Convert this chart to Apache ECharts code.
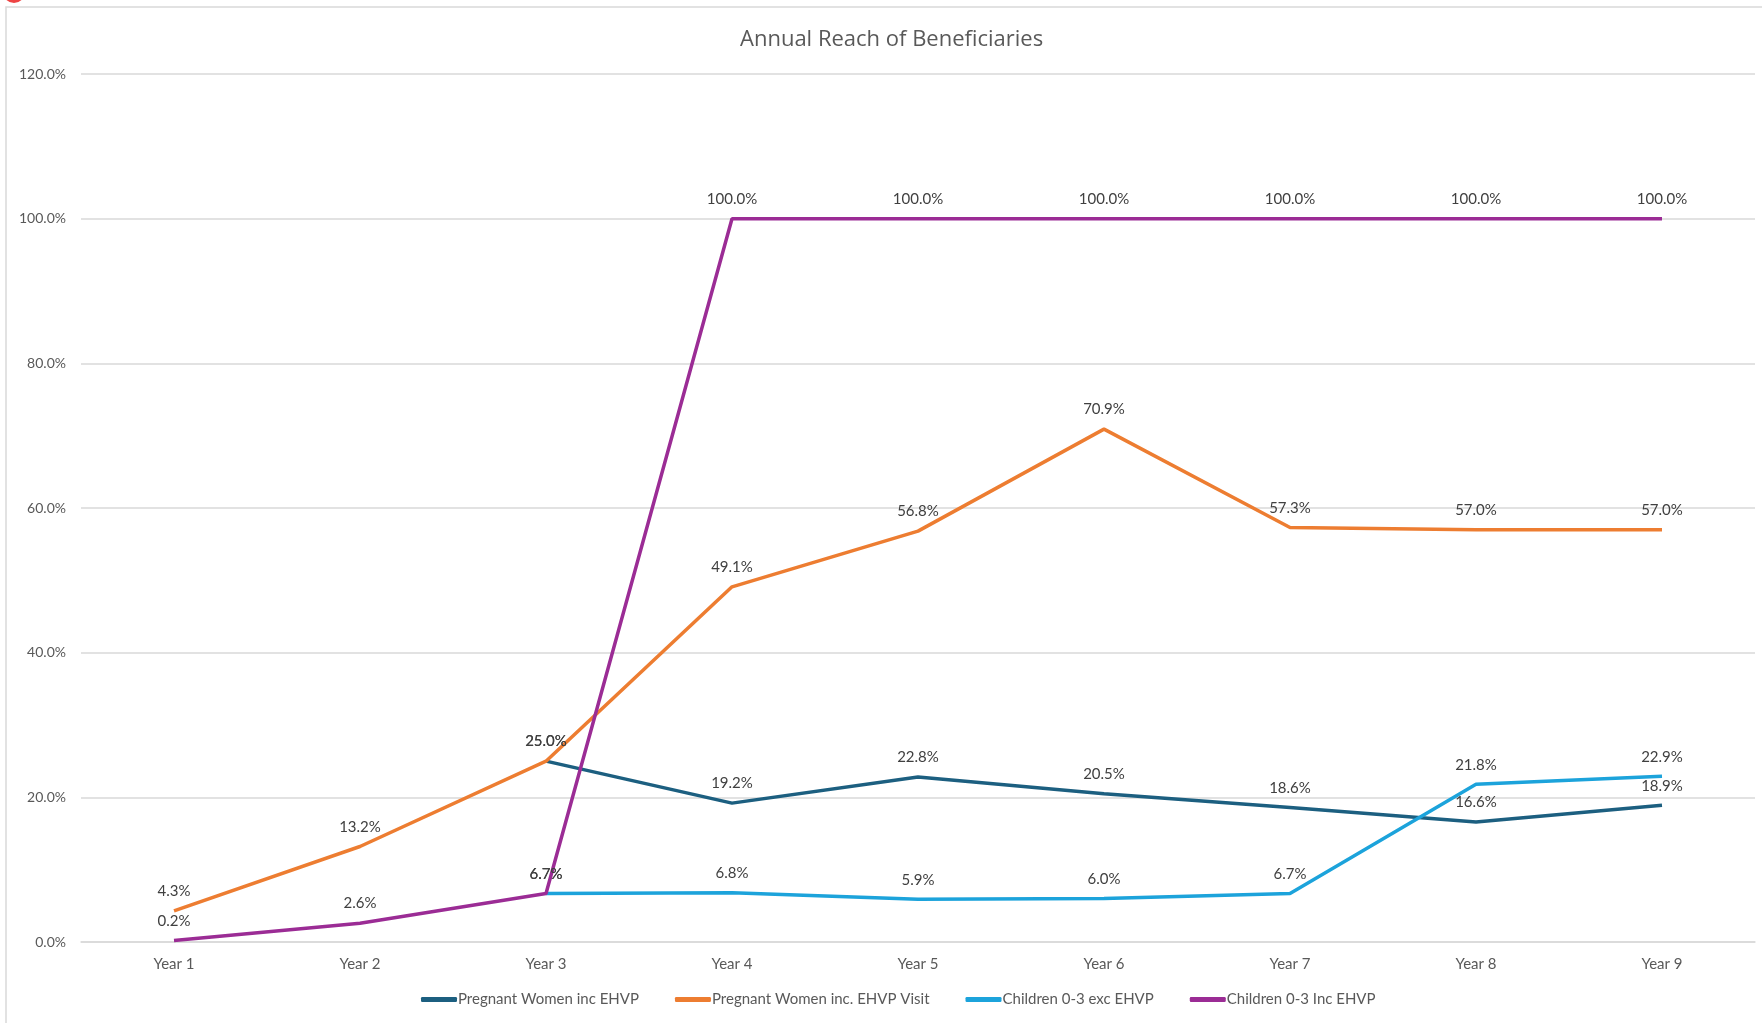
<!DOCTYPE html>
<html>
<head>
<meta charset="utf-8">
<script src="https://cdn.jsdelivr.net/npm/echarts@6/dist/echarts.min.js"></script>
<style>
  html, body { margin: 0; padding: 0; background: #fff; }
  #main { width: 1762px; height: 1023px; }
</style>
</head>
<body>
<div id="main"></div>
<script>
var years = ['Year 1', 'Year 2', 'Year 3', 'Year 4', 'Year 5', 'Year 6', 'Year 7', 'Year 8', 'Year 9'];
var pregnantInc = [null, null, 25.0, 19.2, 22.8, 20.5, 18.6, 16.6, 18.9];
var pregnantVisit = [4.3, 13.2, 25.0, 49.1, 56.8, 70.9, 57.3, 57.0, 57.0];
var childrenExc = [null, null, 6.7, 6.8, 5.9, 6.0, 6.7, 21.8, 22.9];
var childrenInc = [0.2, 2.6, 6.7, 100.0, 100.0, 100.0, 100.0, 100.0, 100.0];
var seriesNames = ['Pregnant Women inc EHVP', 'Pregnant Women inc. EHVP Visit', 'Children 0-3 exc EHVP', 'Children 0-3 Inc EHVP'];
var colors = ['#1c5f80', '#ed7d31', '#1ca3db', '#9b2c95'];

var myChart = echarts.init(document.getElementById('main'));

function makeLine(name, data, color) {
    return {
        name: name,
        type: 'line',
        data: data,
        symbol: 'circle',
        symbolSize: 0.1,
        showSymbol: true,
        connectNulls: false,
        lineStyle: { color: color, width: 3.5 },
        itemStyle: { color: color },
        label: {
            show: true,
            position: 'top',
            distance: 12,
            color: '#404040',
            fontSize: 15,
            fontFamily: 'Lato',
            formatter: function (p) { return p.value == null ? '' : Number(p.value).toFixed(1) + '%'; }
        }
    };
}

var option = {
    backgroundColor: '#fff',
    animation: false,
    color: colors,
    title: {
        text: 'Annual Reach of Beneficiaries',
        left: 735,
        top: 24,
        textStyle: { color: '#595959', fontSize: 22, fontWeight: 'normal', fontFamily: 'Open Sans' }
    },
    legend: {
        bottom: 11,
        left: 416,
        icon: 'roundRect',
        itemWidth: 36,
        itemHeight: 5,
        itemGap: 36,
        textStyle: { color: '#595959', fontSize: 15, fontFamily: 'Lato', padding: [0, 0, 0, -4] },
        data: seriesNames
    },
    grid: { left: 81, right: 7, top: 74, bottom: 81, containLabel: false },
    xAxis: {
        type: 'category',
        data: years,
        boundaryGap: true,
        axisLine: { show: true, lineStyle: { color: '#d9d9d9', width: 1.5 } },
        axisTick: { show: false },
        axisLabel: { color: '#595959', fontSize: 15, fontFamily: 'Lato', margin: 15 }
    },
    yAxis: {
        type: 'value',
        min: 0,
        max: 120,
        interval: 20,
        axisLine: { show: false },
        axisTick: { show: false },
        splitLine: { lineStyle: { color: '#d9d9d9', width: 1.5 } },
        axisLabel: {
            color: '#595959', fontSize: 14, fontFamily: 'Lato', margin: 15,
            formatter: function (v) { return v.toFixed(1) + '%'; }
        }
    },
    graphic: [
        { type: 'rect', shape: { x: 6, y: 7, width: 1800, height: 1100 }, style: { fill: 'none', stroke: '#d9d9d9', lineWidth: 1.5 }, z: -1 },
        { type: 'circle', shape: { cx: 14, cy: -8, r: 11 }, style: { fill: '#ee4444' } }
    ],
    series: [
        makeLine(seriesNames[0], pregnantInc, colors[0]),
        makeLine(seriesNames[1], pregnantVisit, colors[1]),
        makeLine(seriesNames[2], childrenExc, colors[2]),
        makeLine(seriesNames[3], childrenInc, colors[3])
    ]
};

myChart.setOption(option);
</script>
</body>
</html>
